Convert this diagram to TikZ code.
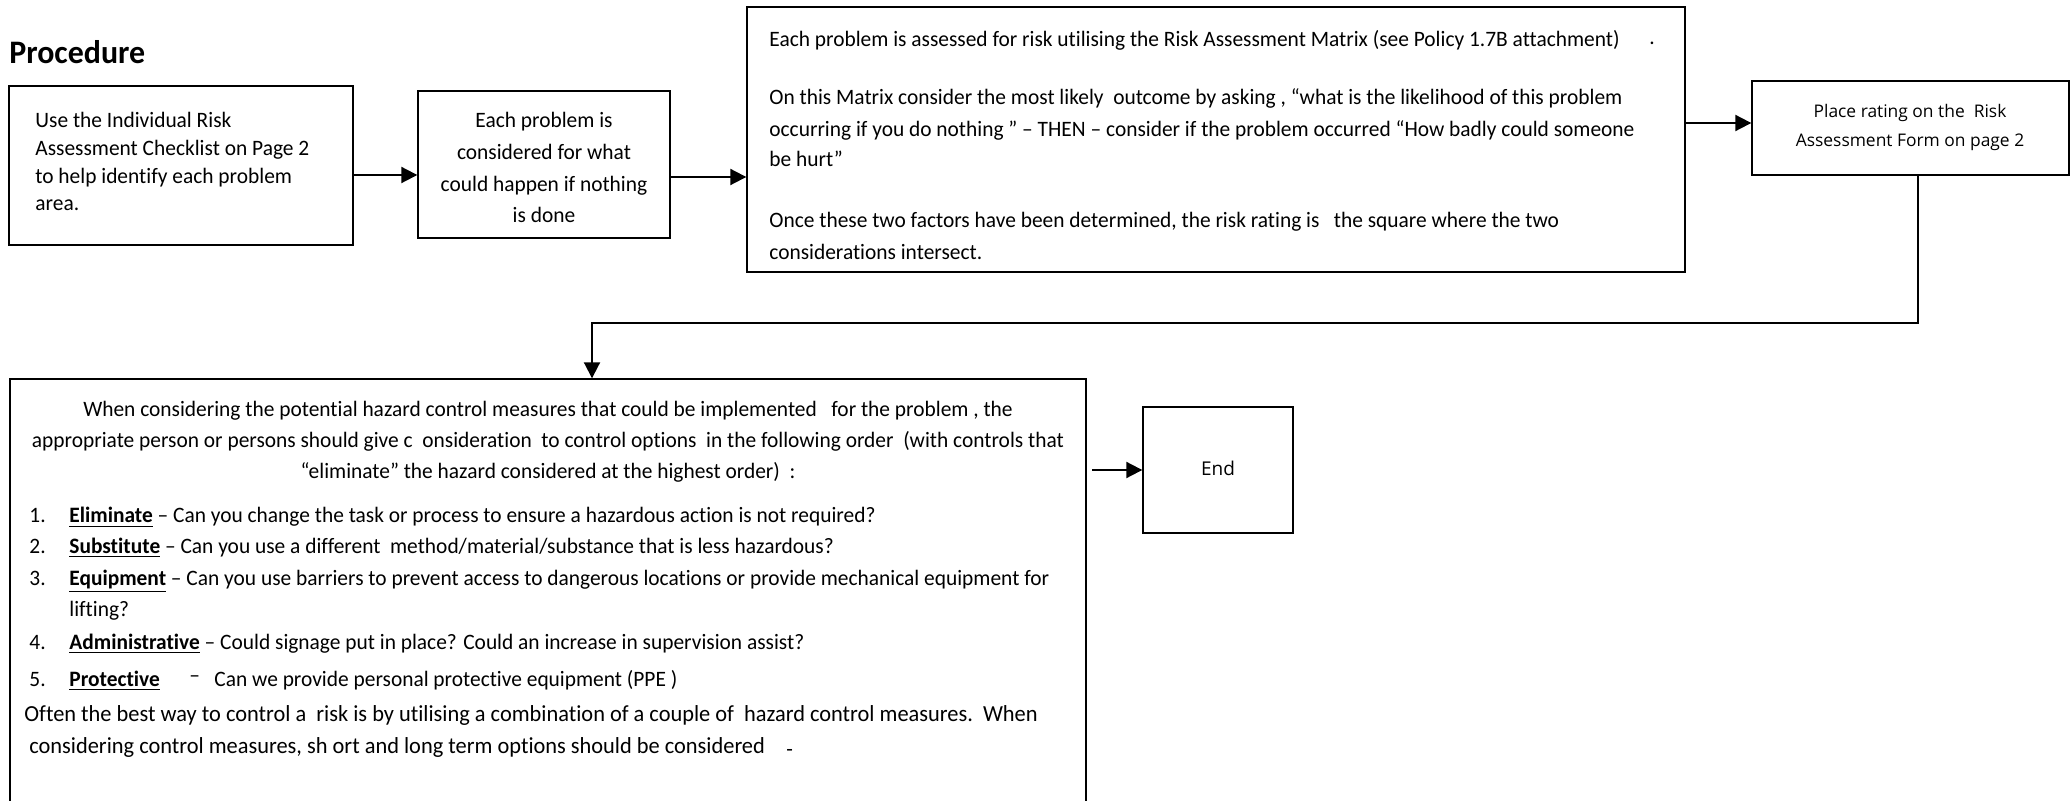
\documentclass[tikz,border=0pt]{standalone}
\usepackage{fontspec}
\setmainfont{Carlito}[FakeStretch=0.973, Ligatures={NoCommon,NoContextual}]
\newfontfamily\osans{Open Sans}
\usetikzlibrary{arrows.meta}
\begin{document}
\begin{tikzpicture}[x=0.5pt,y=-0.5pt,
  box/.style={draw=black, line width=0.7pt, inner sep=0pt, rectangle},
  arr/.style={line width=1pt, -{Triangle[length=8pt,width=8pt]}},
  txt/.style={inner sep=0pt, anchor=base west, font=\fontsize{11pt}{13pt}\selectfont},
  ctxt/.style={inner sep=0pt, anchor=base, font=\fontsize{11pt}{13pt}\selectfont},
  ptxt/.style={inner sep=0pt, anchor=base west, font=\fontsize{11.5pt}{13pt}\selectfont},
  otxt/.style={inner sep=0pt, anchor=base, font=\osans\fontsize{8.7pt}{11pt}\selectfont}]
\useasboundingbox (0,0) rectangle (2071,801);
\clip (0,0) rectangle (2071,801);

% title
\node[inner sep=0pt, anchor=base west, font=\fontsize{16.4pt}{18pt}\bfseries\selectfont] (title) at (9,64) {Procedure};

% boxes
\node[box, minimum width=172pt, minimum height=79.5pt] (b1) at (181,165.5) {};
\node[box, minimum width=126pt, minimum height=73.5pt] (b2) at (544,164.5) {};
\node[box, minimum width=469pt, minimum height=132.5pt] (b3) at (1216,139.5) {};
\node[box, minimum width=158.5pt, minimum height=47pt] (b4) at (1910.5,128) {};
\node[box, minimum width=538pt, minimum height=225.5pt] (b5) at (548,604.5) {};
\node[box, minimum width=75pt, minimum height=63pt] (e) at (1218,470) {};

% box 1 text
\node[txt] (t11) at (35,128) {Use the Individual Risk};
\node[txt] (t12) at (35,156) {Assessment Checklist on Page 2};
\node[txt] (t13) at (35,184) {to help identify each problem};
\node[txt] (t14) at (35,211) {area.};

% box 2 text
\node[ctxt] (t21) at (544,128) {Each problem is};
\node[ctxt] (t22) at (544,160) {considered for what};
\node[ctxt] (t23) at (544,192) {could happen if nothing};
\node[ctxt] (t24) at (544,223) {is done};

% box 3 text
\node[txt] (t31) at (769,47) {Each problem is assessed for risk utilising the Risk Assessment Matrix (see Policy 1.7B attachment)};
\node[txt] (t3d) at (1649,45) {.};
\node[txt] (t32) at (769,105) {On this Matrix consider the most likely\ \ outcome by asking , “what is the likelihood of this problem};
\node[txt] (t33) at (769,137) {occurring if you do nothing ” – THEN – consider\ if the problem\ occurred “How badly could someone};
\node[txt] (t34) at (769,167) {be hurt”};
\node[txt] (t35) at (769,228) {Once these two factors have been determined, the risk rating is\ \ \ the square\ where the two};
\node[txt] (t36) at (769,260) {considerations intersect.};

% box 4 text
\node[otxt] (t41) at (1910,118) {Place rating on the\ \ Risk};
\node[otxt] (t42) at (1910,147) {Assessment Form on page 2};

% end text
\node[otxt, font=\osans\fontsize{9.5pt}{11pt}\selectfont] (te) at (1218,476) {End};

% box 5 text
\node[ctxt] (t51) at (548,417) {When considering\ the potential hazard control measures that could be implemented\ \ \ for the problem , the};
\node[ctxt] (t52) at (548,448) {appropriate person or persons should give c\ \ onsideration\ \ to control options\ \ in the following order\ \ (with controls that};
\node[ctxt] (t53) at (548,479) {“eliminate” the hazard considered at the highest order)\ \ :};
\node[txt] (n1) at (29,523) {1.};
\node[txt] (l1) at (69,523) {\underline{\textbf{Eliminate}} – Can you change the task or process to ensure a hazardous action is not required?};
\node[txt] (n2) at (29,553) {2.};
\node[txt] (l2) at (69,553) {\underline{\textbf{Substitute}} – Can you use a different\ \ method/material/substance that is less hazardous?};
\node[txt] (n3) at (29,585) {3.};
\node[txt] (l3) at (69,585) {\underline{\textbf{Equipment}} – Can you use barriers to prevent access to dangerous locations or provide mechanical equipment for};
\node[txt] (l3b) at (69,616) {lifting?};
\node[txt] (n4) at (29,649) {4.};
\node[txt] (l4) at (69,649) {\underline{\textbf{Administrative}} – Could signage put in place? Could an increase in supervision assist?};
\node[txt] (n5) at (29,686) {5.};
\node[txt] (l5) at (69,686) {\underline{\textbf{Protective}}};
\node[txt] (l5d) at (189,682) {–};
\node[txt] (l5t) at (214,686) {Can we provide personal protective equipment (PPE )};
\node[ptxt] (p1) at (24,721) {Often the best way to control a\ \ risk is by utilising a combination of a couple of\ \ hazard\ control measures.\ \ When};
\node[ptxt] (p2) at (29,753) {considering control measures, sh ort and long term options should be considered};
\node[txt] (p2d) at (786,756) {-};

% connectors
\coordinate (r1) at (0,175);
\coordinate (r2) at (0,177);
\coordinate (r3) at (0,123);
\coordinate (c1) at (1918,323);
\coordinate (c2) at (592,323);
\coordinate (s5) at (1092,470);
\draw[arr] (b1.east |- r1) -- (b2.west |- r1);
\draw[arr] (b2.east |- r2) -- (b3.west |- r2);
\draw[arr] (b3.east |- r3) -- (b4.west |- r3);
\draw[arr] (b4.south -| c1) -- (c1) -- (c2) -- (b5.north -| c2);
\draw[arr] (s5) -- (e.west);
\end{tikzpicture}
\end{document}
